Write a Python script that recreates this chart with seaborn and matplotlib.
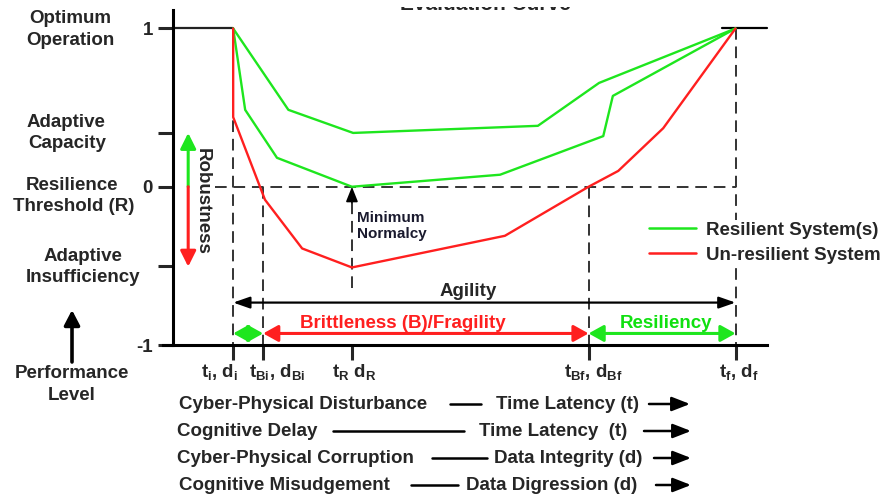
import matplotlib
matplotlib.use("Agg")
import matplotlib.pyplot as plt
import numpy as np
import pandas as pd
import seaborn as sns
from matplotlib.lines import Line2D
from matplotlib.patches import FancyArrowPatch
from matplotlib.transforms import Bbox

# ---- data -------------------------------------------------------------
# event instants on the time / data axis
t_i, t_bi, t_r, t_bf, t_f = 1.0, 1.5, 2.98, 6.925, 9.375
event_ticks = [t_i, t_bi, t_r, t_bf, t_f]
event_labels = [r"t$_\mathrm{i}$, d$_\mathrm{i}$",
                r"t$_\mathrm{Bi}$, d$_\mathrm{Bi}$",
                r"t$_\mathrm{R}$ d$_\mathrm{R}$",
                r"t$_\mathrm{Bf}$, d$_\mathrm{Bf}$",
                r"t$_\mathrm{f}$, d$_\mathrm{f}$"]

# performance levels
optimum, threshold, floor = 1.0, 0.0, -1.0
level_ticks = [-1.0, -0.5, 0.0, 0.34, 1.0]
level_tick_labels = ["-1", "", "0", "", "1"]

# resilient systems (two example trajectories)
res_a_x = [1.0, 1.92, 3.0, 6.08, 7.1, 9.375]
res_a_y = [1.0, 0.486, 0.34, 0.385, 0.656, 1.0]
res_b_x = [1.0, 1.2, 1.73, 2.98, 5.45, 7.17, 7.33, 9.375]
res_b_y = [1.0, 0.486, 0.183, 0.0, 0.076, 0.32, 0.574, 1.0]
# un-resilient system
unres_x = [1.0, 1.0, 1.53, 2.15, 2.98, 5.53, 6.925, 7.42, 8.17, 9.375]
unres_y = [1.0, 0.44, -0.082, -0.39, -0.51, -0.31, 0.0, 0.10, 0.37, 1.0]

series_names = ["Resilient System(s)", "Un-resilient System"]

# ---- style ------------------------------------------------------------
sns.set_style("white")
plt.rcParams["font.family"] = ["Liberation Sans", "DejaVu Sans"]
plt.rcParams["font.weight"] = "bold"
plt.rcParams["mathtext.fontset"] = "custom"
plt.rcParams["mathtext.rm"] = "Liberation Sans:bold"
plt.rcParams["mathtext.bf"] = "Liberation Sans:bold"
plt.rcParams["mathtext.it"] = "Liberation Sans:bold"

GREEN = "#1ee61e"
RED = "#ff1f1f"
DASH = "#333333"
FS = 13.5

W, H = 889, 496
fig = plt.figure(figsize=(W / 100, H / 100), dpi=100)
ax = fig.add_axes([163 / W, 1 - 345 / H, (767 - 163) / W, (345 - 9.5) / H])


def fx(px):
    return px / W


def fy(py):
    return 1 - py / H


curves = pd.DataFrame({
    "x": res_a_x + res_b_x + unres_x,
    "y": res_a_y + res_b_y + unres_y,
    "system": [series_names[0]] * (len(res_a_x) + len(res_b_x)) + [series_names[1]] * len(unres_x),
    "curve": ["a"] * len(res_a_x) + ["b"] * len(res_b_x) + ["c"] * len(unres_x),
})

# reference / guide lines
dash_style = (0, (6, 3.5))
ax.plot([0.7, t_f], [threshold, threshold], color=DASH, lw=1.4, ls=dash_style, zorder=1)
for t in (t_i, t_f):
    ax.plot([t, t], [optimum, floor], color=DASH, lw=1.4, ls=dash_style, zorder=1)
for t in (t_bi, t_bf):
    ax.plot([t, t], [threshold, floor], color=DASH, lw=1.4, ls=dash_style, zorder=1)
ax.plot([t_r, t_r], [-0.64, -0.08], color=DASH, lw=1.4, ls=dash_style, zorder=1)
ax.annotate("", xy=(t_r, threshold), xytext=(t_r, -0.1),
            arrowprops=dict(arrowstyle="-|>,head_length=9,head_width=3.6", mutation_scale=1,
                            color="black", lw=1.2, shrinkA=0, shrinkB=0))

# optimum operation segments
ax.plot([0, t_i], [optimum, optimum], color="#222222", lw=1.6, zorder=2)
ax.plot([9.15, 9.9], [optimum, optimum], color="black", lw=1.6, zorder=2, clip_on=False)

sns.lineplot(data=curves, x="x", y="y", hue="system", units="curve", estimator=None,
             sort=False, palette={series_names[0]: GREEN, series_names[1]: RED},
             linewidth=1.7, legend=False, ax=ax, zorder=3)

# axes
ax.set_xlim(-0.17, 9.9)
ax.set_ylim(floor, 1.12)
ax.spines["left"].set_position(("data", 0))
ax.spines["top"].set_visible(False)
ax.spines["right"].set_visible(False)
for s in ("left", "bottom"):
    ax.spines[s].set_linewidth(2.2)
    ax.spines[s].set_color("black")
ax.set_yticks(level_ticks)
ax.set_yticklabels(level_tick_labels, fontsize=FS, fontweight="bold")
ax.set_xticks(event_ticks)
ax.set_xticklabels([""] * len(event_ticks))
ax.tick_params(axis="y", direction="out", length=11, width=2.2, pad=3.5, left=True)
ax.tick_params(axis="x", direction="out", length=11, width=2.2, bottom=True)
ax.set_xlabel("")
ax.set_ylabel("")

# event labels under the time axis
label_px = [220, 277, 354, 593, 739]
for lbl, px in zip(event_labels, label_px):
    fig.text(fx(px), fy(377), lbl, ha="center", va="baseline", fontsize=FS, fontweight="bold")

# robustness arrow
for tip, col in ((0.34, GREEN), (-0.505, RED)):
    ax.annotate("", xy=(0.25, tip), xytext=(0.25, threshold),
                arrowprops=dict(arrowstyle="-|>,head_length=9.4,head_width=4.7", mutation_scale=1,
                                color=col, lw=2.2, shrinkA=0, shrinkB=0))
ax.text(0.48, -0.095, "Robustness", rotation=270, ha="center", va="center",
        fontsize=FS, fontweight="bold")

ax.text(3.07, -0.246, "Minimum\nNormalcy", ha="left", va="center", fontsize=11,
        fontweight="bold", color="#1a1a2e", linespacing=1.15)

# agility and brittleness / resiliency spans
y_ag = -0.732
ax.annotate("", xy=(t_i, y_ag), xytext=(t_f, y_ag),
            arrowprops=dict(arrowstyle="<|-|>,head_length=10,head_width=3.5", mutation_scale=1,
                            color="black", lw=1.6, shrinkA=0, shrinkB=0))
ax.text(4.92, -0.69, "Agility", ha="center", va="baseline", fontsize=FS, fontweight="bold")

y_br = -0.927
for a, b, col in ((t_i, t_bi, GREEN), (t_bi, t_bf, RED), (t_bf, t_f, GREEN)):
    ax.annotate("", xy=(a, y_br), xytext=(b, y_br),
                arrowprops=dict(arrowstyle="<|-|>,head_length=9,head_width=5", mutation_scale=1,
                                color=col, lw=2.2, shrinkA=0, shrinkB=0))
ax.text(3.82, -0.89, "Brittleness (B)/Fragility", ha="center", va="baseline",
        fontsize=FS, fontweight="bold", color=RED)
ax.text(8.22, -0.89, "Resiliency", ha="center", va="baseline",
        fontsize=FS, fontweight="bold", color="#10e010")

# legend (opaque, sits over the guide lines)
handles = [Line2D([], [], color=GREEN, lw=1.8), Line2D([], [], color=RED, lw=1.8)]
leg = fig.legend(handles, series_names, loc="upper left", bbox_to_anchor=(fx(647), fy(220)),
                 frameon=True, facecolor="white", edgecolor="none", framealpha=1,
                 fancybox=False, borderpad=0.1, borderaxespad=0, handlelength=2.5,
                 handletextpad=0.55, labelspacing=0.42,
                 prop={"family": "Liberation Sans", "weight": "bold", "size": FS})
leg.set_zorder(5)

# level descriptions on the left
left_labels = [("Optimum", 70, 23), ("Operation", 70, 45),
               ("Adaptive", 66, 127), ("Capacity", 67, 148),
               ("Resilience", 72, 190), ("Threshold (R)", 74, 211),
               ("Adaptive", 83, 261), ("Insufficiency", 83, 282),
               ("Performance", 72, 378), ("Level", 72, 400)]
for txt, px, py in left_labels:
    fig.text(fx(px), fy(py), txt, ha="center", va="baseline", fontsize=FS, fontweight="bold")
fig.add_artist(FancyArrowPatch(
    (fx(72), fy(362)), (fx(72), fy(310)), transform=fig.transFigure,
    arrowstyle="-|>,head_length=9,head_width=4.7", mutation_scale=1,
    color="black", lw=2.6, shrinkA=0, shrinkB=0))

# title: only its lower edge shows in the narrow strip above the plot
title = fig.text(fx(485), fy(10), "Evaluation Curve", ha="center", va="baseline",
                 fontsize=15, fontweight="bold")
title.set_clip_box(Bbox.from_extents(0, H - 11, W, H - 7))
title.set_clip_on(True)

# cause / effect mapping rows
rows = [
    ("Cyber-Physical Disturbance", 179, (450, 481), "Time Latency (t)", 496, (649, 690), 409),
    ("Cognitive Delay", 177, (333, 464), "Time Latency  (t)", 479, (644, 691), 436),
    ("Cyber-Physical Corruption", 177, (432, 487), "Data Integrity (d)", 494, (654, 691), 463),
    ("Cognitive Misudgement", 179, (411, 458), "Data Digression (d)", 466, (656, 691), 490),
]
for cause, cx, (l0, l1), effect, ex, (a0, a1), base in rows:
    fig.text(fx(cx), fy(base), cause, ha="left", va="baseline", fontsize=FS, fontweight="bold")
    fig.text(fx(ex), fy(base), effect, ha="left", va="baseline", fontsize=FS, fontweight="bold")
    ymid = base - 5
    fig.add_artist(Line2D([fx(l0), fx(l1)], [fy(ymid), fy(ymid)], color="black", lw=1.8,
                          transform=fig.transFigure))
    fig.add_artist(FancyArrowPatch(
        (fx(a0), fy(ymid)), (fx(a1), fy(ymid)), transform=fig.transFigure,
        arrowstyle="-|>,head_length=11,head_width=4.3", mutation_scale=1,
        color="black", lw=1.8, shrinkA=0, shrinkB=0))

fig.savefig("out.png", dpi=100)
